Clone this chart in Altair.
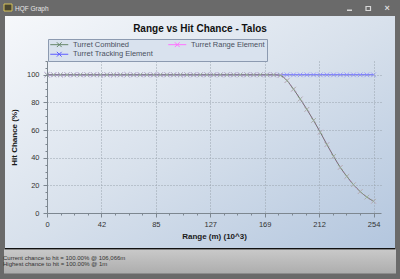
import altair as alt
import pandas as pd

# ---------------- data ----------------
range_k = [0.0, 5.2, 10.4, 15.6, 20.8, 25.9, 31.1, 36.3, 41.5, 46.7,
           51.9, 57.1, 62.3, 67.4, 72.6, 77.8, 83.0, 88.2, 93.4, 98.6,
           103.8, 108.9, 114.1, 119.3, 124.5, 129.7, 134.9, 140.1, 145.3, 150.4,
           155.6, 160.8, 166.0, 171.2, 176.4, 181.6, 186.8, 191.9, 197.1, 202.3,
           207.5, 212.7, 217.9, 223.1, 228.3, 233.4, 238.6, 243.8, 249.0, 254.2]
combined = [100] * 35 + [99.6, 95.8, 89.6, 82.5, 75.0, 67.0, 58.5, 49.5, 41.0,
                         33.0, 26.5, 20.5, 15.5, 11.5, 8.5]
range_elem = [100] * 35 + [99.6, 95.8, 89.6, 82.5, 75.0, 67.0, 58.5, 49.5, 41.0,
                           33.0, 26.5, 20.5, 15.5, 11.5, 8.5]
tracking = [100] * 50

series_names = ["Turret Combined", "Turret Range Element", "Turret Tracking Element"]
marker_colors = ["#93bb93", "#ff9cff", "#8d8dff"]
# legend fills column by column: this order gives row 1 = Combined | Range
legend_order = ["Turret Combined", "Turret Tracking Element", "Turret Range Element"]
legend_colors = ["#66876a", "#5c5cff", "#ff72ff"]

x_major = [0, 42.37, 84.73, 127.1, 169.47, 211.83, 254.2]
y_major = [0, 20, 40, 60, 80, 100]

chart_title = "Range vs Hit Chance - Talos"
x_title = "Range (m) (10^3)"
y_title = "Hit Chance (%)"
window_title = "HQF Graph"
status_lines = ["Current chance to hit = 100.00% @ 106,066m",
                "Highest chance to hit = 100.00% @ 1m"]

# ---------------- tables ----------------
rows = []
for name, vals in zip(series_names, [combined, range_elem, tracking]):
    for x, y in zip(range_k, vals):
        rows.append({"series": name, "range": x, "hit": y})
df = pd.DataFrame(rows)

x_all = []
for a, b in zip(x_major[:-1], x_major[1:]):
    for k in range(4):
        x_all.append(round(a + k * (b - a) / 4, 4))
x_all.append(x_major[-1])
y_all = list(range(0, 111, 5))

x_major_test = "indexof([" + ",".join(str(v) for v in x_major) + "], datum.value) >= 0"
y_major_test = "indexof([" + ",".join(str(v) for v in y_major) + "], datum.value) >= 0"

FONT = "Liberation Sans"
W, H = 334, 152
OX, OY = 47, 61  # plot origin in the window

XPATH = "M-1,-1L1,1M-1,1L1,-1"
LEG_PATH = "M-3,0H3M-0.8,-0.8L0.8,0.8M-0.8,0.8L0.8,-0.8"

x_scale = alt.Scale(domain=[0, 260], nice=False, zero=False)
y_scale = alt.Scale(domain=[0, 110], nice=False)

x_axis = alt.Axis(
    values=x_all, title=x_title, zindex=1, labelOverlap=False, labelFlush=False,
    labelExpr=f"{x_major_test} ? format(datum.value, '.0f') : ''",
    labelFont=FONT, labelFontSize=7.5, labelColor="#333333", labelPadding=3,
    titleFont=FONT, titleFontSize=8, titleFontWeight="bold", titleColor="#1a1a1a",
    titlePadding=5,
    domainColor="#7d8790", tickColor="#7d8790",
    tickSize={"condition": {"test": x_major_test, "value": 4}, "value": 2},
    grid=True, gridColor="#99a3ad", gridDash=[1, 2],
    gridOpacity={"condition": {"test": x_major_test, "value": 1}, "value": 0},
)
y_axis = alt.Axis(
    values=y_all, title=y_title, zindex=1, labelOverlap=False, labelFlush=False,
    labelExpr=f"{y_major_test} ? format(datum.value, '.0f') : ''",
    labelFont=FONT, labelFontSize=7.5, labelColor="#333333", labelPadding=4,
    titleFont=FONT, titleFontSize=8, titleFontWeight="bold", titleColor="#1a1a1a",
    titlePadding=8,
    domainColor="#7d8790", tickColor="#7d8790",
    tickSize={"condition": {"test": y_major_test, "value": 4}, "value": 2},
    grid=True, gridColor="#99a3ad", gridDash=[1, 2],
    gridOpacity={"condition": {"test": y_major_test + " && datum.value > 0", "value": 1}, "value": 0},
)

legend = alt.Legend(
    orient="none", legendX=1, legendY=-22, columns=2, title=None,
    symbolType=LEG_PATH, symbolSize=36, symbolStrokeWidth=1,
    symbolFillColor="transparent", symbolOffset=6,
    labelFont=FONT, labelFontSize=7.5, labelColor="#4a5060", labelOffset=10,
    fillColor="#d9e2ee", strokeColor="#8c9ab0", padding=1.5,
    rowPadding=0, columnPadding=12, zindex=1,
)

color = alt.Color("series:N", scale=alt.Scale(domain=legend_order, range=legend_colors),
                  legend=legend)

one = alt.Data(values=[{"k": 1}])

panel_grad = alt.Gradient(
    gradient="linear", x1=0, y1=0, x2=1, y2=1,
    stops=[alt.GradientStop(color="#f6f8fb", offset=0),
           alt.GradientStop(color="#d8e1ec", offset=0.5),
           alt.GradientStop(color="#b3c6de", offset=1)])
status_grad = alt.Gradient(
    gradient="linear", x1=0, y1=0, x2=0, y2=1,
    stops=[alt.GradientStop(color="#c9c9c9", offset=0),
           alt.GradientStop(color="#adadad", offset=1)])

panel = alt.Chart(one).mark_rect(fill=panel_grad).encode(
    x=alt.value(5 - OX), x2=alt.value(395 - OX), y=alt.value(16 - OY), y2=alt.value(248 - OY))
sep = alt.Chart(one).mark_rect(fill="#111111").encode(
    x=alt.value(5 - OX), x2=alt.value(395 - OX), y=alt.value(248 - OY), y2=alt.value(249.5 - OY))
status = alt.Chart(one).mark_rect(fill=status_grad).encode(
    x=alt.value(4 - OX), x2=alt.value(396 - OX), y=alt.value(249.5 - OY), y2=alt.value(273.5 - OY))
icon = alt.Chart(one).mark_rect(fill="#4a4630", stroke="#d6c25a", strokeWidth=1).encode(
    x=alt.value(4 - OX), x2=alt.value(12 - OX), y=alt.value(4 - OY), y2=alt.value(11 - OY))
btn_min = alt.Chart(one).mark_rect(fill="#d8d8d8").encode(
    x=alt.value(347 - OX), x2=alt.value(352 - OX), y=alt.value(9.5 - OY), y2=alt.value(11 - OY))
btn_max = alt.Chart(one).mark_rect(fill="transparent", stroke="#d8d8d8", strokeWidth=1.2).encode(
    x=alt.value(366 - OX), x2=alt.value(370.5 - OX), y=alt.value(6.5 - OY), y2=alt.value(10.5 - OY))


def txt(s, x, y, size, color_, weight="normal", align="left"):
    return alt.Chart(one).mark_text(
        text=s, font=FONT, fontSize=size, fontWeight=weight, color=color_,
        align=align, baseline="alphabetic").encode(x=alt.value(x - OX), y=alt.value(y - OY))


t_win = txt(window_title, 15, 11, 6.5, "#e6e6e6")
t_close = txt("×", 387, 11, 9, "#dcdcdc", "bold", "center")
t_title = txt(chart_title, 200, 31.5, 10, "#111111", "bold", "center")
t_s1 = txt(status_lines[0], 3, 259.5, 6, "#333333")
t_s2 = txt(status_lines[1], 3, 266, 6, "#333333")

X = alt.X("range:Q", scale=x_scale, axis=x_axis)
Y = alt.Y("hit:Q", scale=y_scale, axis=y_axis)

base = alt.Chart(df)
layers = [panel, sep, status, icon, btn_min, btn_max]
for name, mcol in zip(["Turret Tracking Element", "Turret Range Element", "Turret Combined"],
                      [marker_colors[2], marker_colors[1], marker_colors[0]]):
    sub = base.transform_filter(alt.datum.series == name)
    layers.append(sub.mark_line(strokeWidth=1, interpolate="monotone").encode(
        x=X, y=Y, color=color))
    layers.append(sub.mark_point(shape=XPATH, filled=False, size=22, strokeWidth=0.9,
                                 color=mcol, opacity=0.9).encode(x=X, y=Y))
layers += [t_win, t_close, t_title, t_s1, t_s2]

chart = alt.layer(*layers).properties(
    width=W, height=H,
    padding={"left": OX, "top": OY, "right": 400 - OX - W, "bottom": 279 - OY - H},
    autosize=alt.AutoSizeParams(type="none"),
    background="#6a6a6a",
).configure_view(stroke="#8a8f96", strokeWidth=1)

chart.save("out.html", embed_options={"renderer": "svg", "actions": False})
